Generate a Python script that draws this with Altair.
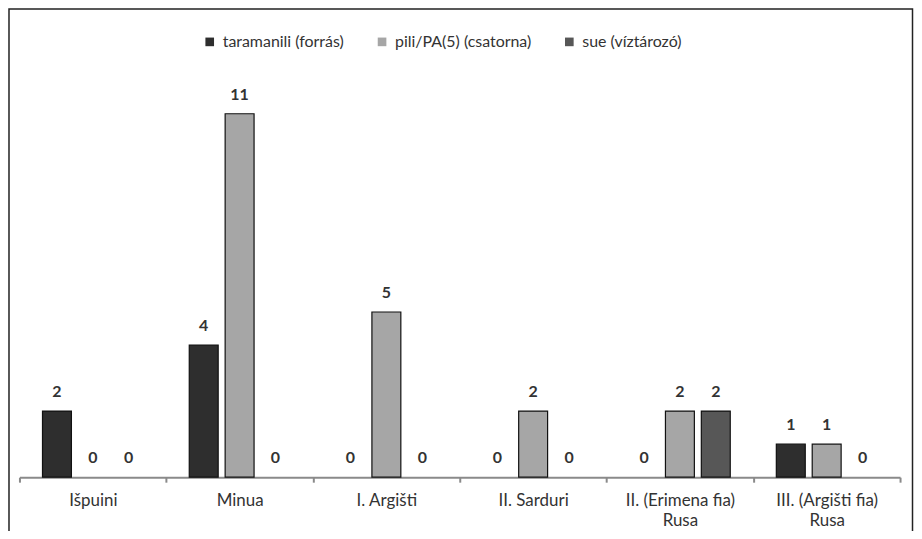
import altair as alt
import pandas as pd

categories = ["Išpuini", "Minua", "I. Argišti", "II. Sarduri",
              "II. (Erimena fia)\nRusa", "III. (Argišti fia)\nRusa"]
series = ["taramanili (forrás)", "pili/PA(5) (csatorna)", "sue (víztározó)"]
taramanili = [2, 4, 0, 0, 0, 1]
pili = [0, 11, 5, 2, 2, 1]
sue = [0, 0, 0, 0, 2, 0]
colors = ["#2e2e2e", "#a6a6a6", "#575757"]

rows = []
for i, c in enumerate(categories):
    for s, vals in zip(series, [taramanili, pili, sue]):
        rows.append({"king": c, "series": s, "value": vals[i]})
df = pd.DataFrame(rows)

FONT = "Lato"

x_enc = alt.X("king:N", sort=categories, title=None,
              scale=alt.Scale(domain=categories, paddingInner=0, paddingOuter=0),
              axis=alt.Axis(labelAngle=0, domainColor="#8a8a8a", domainWidth=2,
                            tickColor="#8a8a8a", tickWidth=2, tickSize=5,
                            tickBand="extent", labelFont=FONT, labelFontSize=17,
                            labelColor="#333333", labelPadding=10,
                            labelLineHeight=20,
                            labelExpr="split(datum.label, '\\n')"))
xo_enc = alt.XOffset("series:N", sort=series,
                     scale=alt.Scale(domain=series, paddingInner=0.194, paddingOuter=0.642))
y_enc = alt.Y("value:Q", scale=alt.Scale(domain=[0, 12.3]), axis=None)

base = alt.Chart(df)

bars = base.transform_filter("datum.value > 0").mark_bar(
    stroke="#111111", strokeWidth=1.2
).encode(
    x=x_enc, xOffset=xo_enc, y=y_enc,
    color=alt.Color("series:N", sort=series,
                    scale=alt.Scale(domain=series, range=colors),
                    legend=alt.Legend(title=None, orient="none", direction="horizontal",
                                      legendX=183, legendY=-37,
                                      symbolType="square", symbolSize=75,
                                      symbolStrokeWidth=0,
                                      labelFont=FONT, labelFontSize=16,
                                      labelColor="#333333", labelOffset=5,
                                      columnPadding=30)),
)

labels = base.mark_text(dy=-19, fontSize=16, fontWeight="bold", font=FONT,
                        color="#333333", baseline="middle").encode(
    x=x_enc, xOffset=xo_enc, y=y_enc, text="value:Q"
)

frame = alt.Chart(pd.DataFrame({"a": [0]})).mark_rect(
    fill=None, stroke="#222222", strokeWidth=1.5
).encode(
    x=alt.value(-10.5), x2=alt.value(896.5),
    y=alt.value(-62), y2=alt.value(500),
)

chart = alt.layer(frame, bars, labels).properties(
    width=884, height=408,
    padding={"left": 11.5, "top": 62, "right": 14, "bottom": 53},
    autosize=alt.AutoSizeParams(type="none"),
    background="white",
).configure_view(stroke=None)

chart.save("out.html", embed_options={"renderer": "svg", "actions": False})
